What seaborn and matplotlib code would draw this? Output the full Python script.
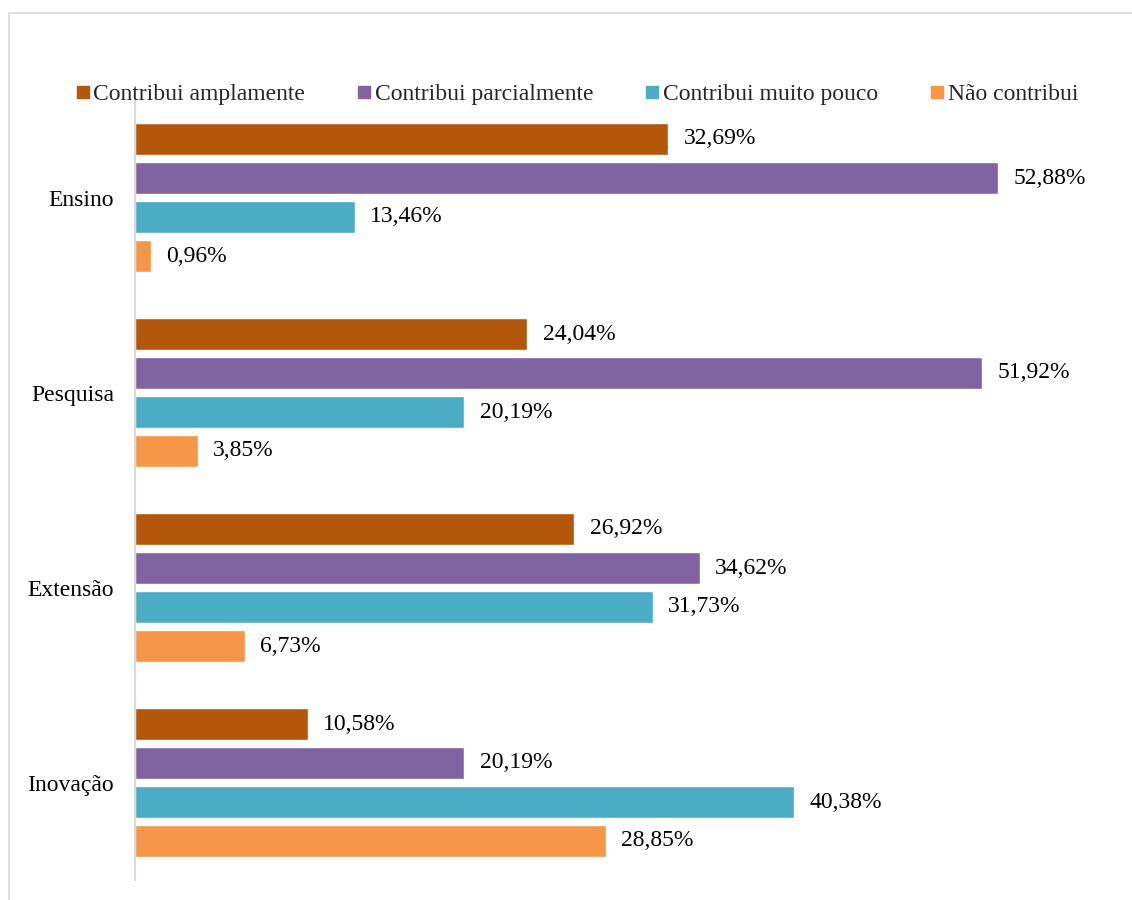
import numpy as np
import pandas as pd
import matplotlib
matplotlib.use("Agg")
import matplotlib.pyplot as plt
from matplotlib.patches import Rectangle
from matplotlib.lines import Line2D
import seaborn as sns

categories = ["Ensino", "Pesquisa", "Extensão", "Inovação"]
series = ["Contribui amplamente", "Contribui parcialmente",
          "Contribui muito pouco", "Não contribui"]
amplamente = [32.69, 24.04, 26.92, 10.58]
parcialmente = [52.88, 51.92, 34.62, 20.19]
muito_pouco = [13.46, 20.19, 31.73, 40.38]
nao_contribui = [0.96, 3.85, 6.73, 28.85]
colors = ["#B55708", "#8064A2", "#4BACC6", "#F79646"]

values = [amplamente, parcialmente, muito_pouco, nao_contribui]
df = pd.DataFrame(
    [(cat, s, v[i]) for s, v in zip(series, values) for i, cat in enumerate(categories)],
    columns=["area", "nivel", "pct"],
)

sns.set_theme(style="white")
plt.rcParams["font.family"] = ["Liberation Serif", "DejaVu Serif"]

W, H = 1132, 900
FS = 17
fig = plt.figure(figsize=(W / 100, H / 100), dpi=100)
ax = fig.add_axes([135 / W, 1 - 880 / H, (1114 - 135) / W, (880 - 100) / H])

sns.barplot(data=df, y="area", x="pct", hue="nivel", order=categories,
            hue_order=series, palette=colors, orient="h", width=0.8,
            gap=0.2, saturation=1, ax=ax, legend=False)

ax.set_xlim(0, 60)
ax.set_xlabel("")
ax.set_ylabel("")
ax.set_xticks([])
for side in ["top", "right", "bottom"]:
    ax.spines[side].set_visible(False)
ax.spines["left"].set_color("#D9D9D9")
ax.spines["left"].set_linewidth(1.5)
ax.tick_params(axis="y", length=0, pad=15, labelsize=FS, labelcolor="black")

for cont in ax.containers:
    ax.bar_label(cont, labels=[f"{v:.2f}%".replace(".", ",") for v in cont.datavalues],
                 padding=11, fontsize=FS, color="black")

handles = [Line2D([], [], marker="s", linestyle="none", markersize=8,
                  markerfacecolor=c, markeredgecolor=c) for c in colors]
fig.legend(handles, series, loc="center", bbox_to_anchor=(577 / W, 1 - 94 / H),
           ncol=4, frameon=False, fontsize=FS, handlelength=0.6,
           handletextpad=0.15, columnspacing=2.2, borderaxespad=0)

# light chart-area frame
fig.add_artist(Rectangle((9 / W, -0.2), 1.2, 1.2 - 13 / H,
                         transform=fig.transFigure, fill=False,
                         edgecolor="#D9D9D9", linewidth=1.2, clip_on=False))

fig.savefig("out.png", dpi=100)
